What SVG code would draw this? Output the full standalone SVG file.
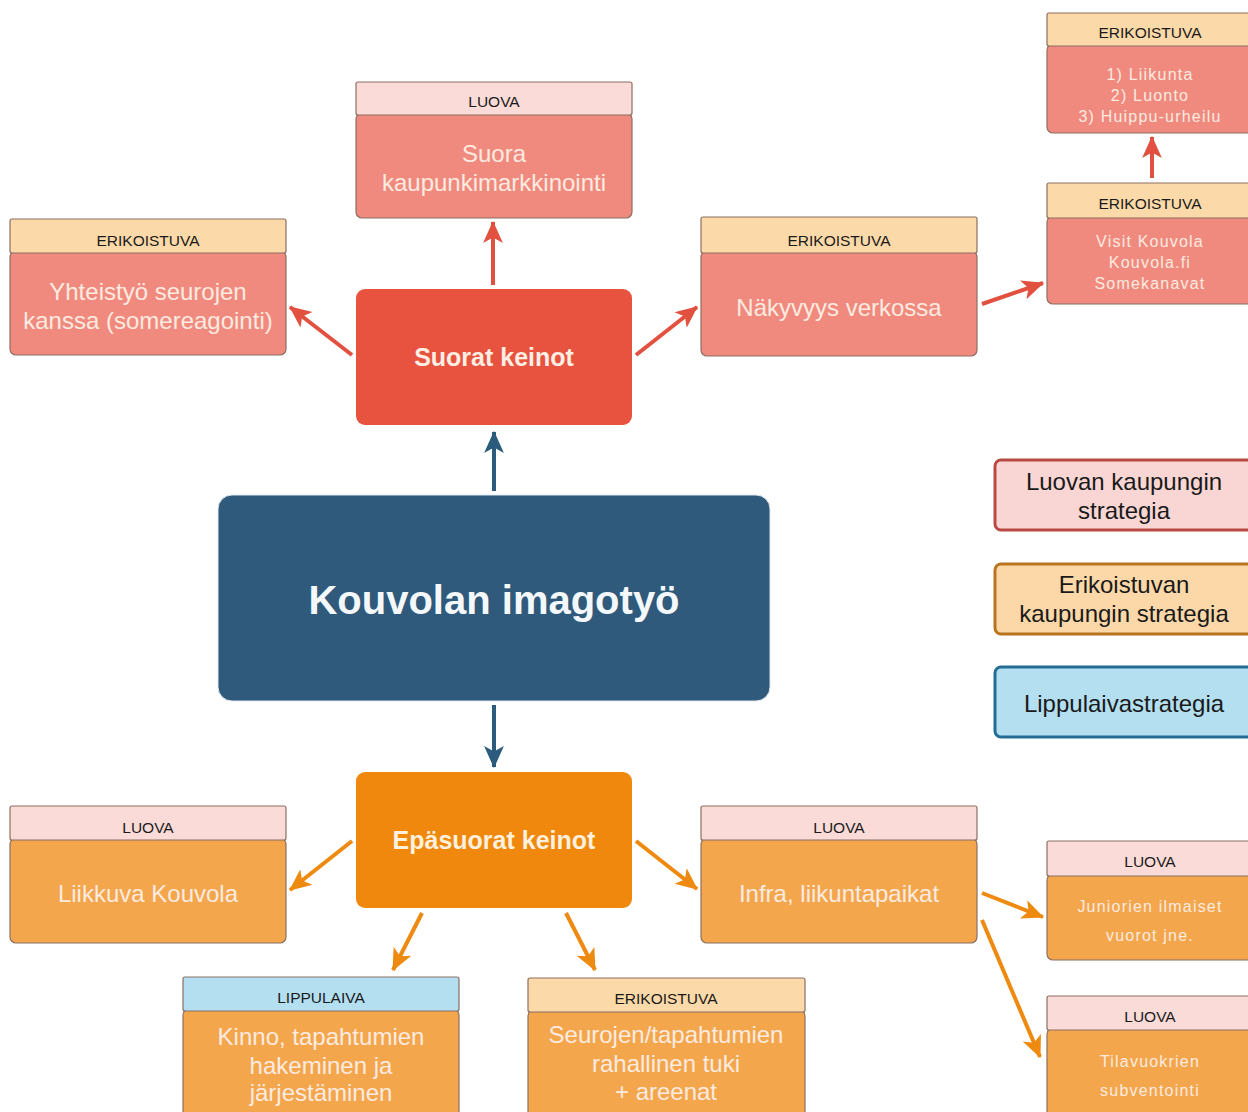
<svg xmlns="http://www.w3.org/2000/svg" width="1248" height="1112" viewBox="0 0 1248 1112">
<defs>
<style>
.hdr{stroke:#8c6f62;stroke-width:1.2}
.body{stroke:#8c6f62;stroke-width:1.2}
.pink{fill:#fadbd8}
.peach{fill:#fcd9a8}
.blue{fill:#b4dff1}
.redb{fill:#f08a7e}
.orb{fill:#f3a64c}
.ht{font-family:"Liberation Sans",Arial,sans-serif;font-size:15.5px;fill:#1a1a1a;text-anchor:middle}
.bt{font-family:"Liberation Sans",Arial,sans-serif;font-size:24px;fill:#fdebe0;text-anchor:middle}
.st{font-family:"Liberation Sans",Arial,sans-serif;font-size:16px;letter-spacing:1.2px;fill:#fdebe0;text-anchor:middle}
.lt{font-family:"Liberation Sans",Arial,sans-serif;font-size:24px;fill:#1a1a1a;text-anchor:middle}
.c{fill:none;stroke-width:4}
.cr{stroke:#e2503f}
.cb{stroke:#2b5b7d}
.co{stroke:#ee8a10}
</style>
<marker id="ar" viewBox="0 0 20 20" refX="19" refY="10" markerWidth="22" markerHeight="22" markerUnits="userSpaceOnUse" orient="auto"><path d="M0,1 L20,10 L0,19 L5,10 Z" fill="#e2503f"/></marker>
<marker id="ab" viewBox="0 0 20 20" refX="19" refY="10" markerWidth="22" markerHeight="22" markerUnits="userSpaceOnUse" orient="auto"><path d="M0,1 L20,10 L0,19 L5,10 Z" fill="#2b5b7d"/></marker>
<marker id="ao" viewBox="0 0 20 20" refX="19" refY="10" markerWidth="22" markerHeight="22" markerUnits="userSpaceOnUse" orient="auto"><path d="M0,1 L20,10 L0,19 L5,10 Z" fill="#ee8a10"/></marker>
</defs>
<rect width="1248" height="1112" fill="#ffffff"/>

<g id="connectors">
<path class="c cb" d="M494,491 L494,432" marker-end="url(#ab)"/>
<path class="c cb" d="M494,705 L494,767" marker-end="url(#ab)"/>
<path class="c cr" d="M493,285 L493,222" marker-end="url(#ar)"/>
<path class="c cr" d="M352,355 L290,307" marker-end="url(#ar)"/>
<path class="c cr" d="M636,355 L697,307" marker-end="url(#ar)"/>
<path class="c cr" d="M982,304 L1043,283" marker-end="url(#ar)"/>
<path class="c cr" d="M1152,178 L1152,137" marker-end="url(#ar)"/>
<path class="c co" d="M352,841 L290,890" marker-end="url(#ao)"/>
<path class="c co" d="M636,841 L697,889" marker-end="url(#ao)"/>
<path class="c co" d="M422,913 L393,970" marker-end="url(#ao)"/>
<path class="c co" d="M566,913 L595,970" marker-end="url(#ao)"/>
<path class="c co" d="M982,893 L1043,917" marker-end="url(#ao)"/>
<path class="c co" d="M982,920 L1040,1057" marker-end="url(#ao)"/>
</g>

<g id="main">
<rect x="218" y="495" width="552" height="206" rx="14" fill="#2f5a7c" stroke="#dbe6ee" stroke-width="1"/>
<text x="494" y="614" font-family="Liberation Sans,Arial,sans-serif" font-size="40" font-weight="bold" fill="#f4f8fb" text-anchor="middle">Kouvolan imagotyö</text>
</g>

<g id="suorat">
<rect x="356" y="289" width="276" height="136" rx="9" fill="#e8533f"/>
<text x="494" y="366" font-family="Liberation Sans,Arial,sans-serif" font-size="25" font-weight="bold" fill="#fdeee4" text-anchor="middle">Suorat keinot</text>
</g>

<g id="epasuorat">
<rect x="356" y="772" width="276" height="136" rx="9" fill="#ef880c"/>
<text x="494" y="849" font-family="Liberation Sans,Arial,sans-serif" font-size="25" font-weight="bold" fill="#fdf0dc" text-anchor="middle">Epäsuorat keinot</text>
</g>

<g id="suora-kaupunkimarkkinointi">
<rect class="body redb" x="356" y="113" width="276" height="105" rx="6"/>
<rect class="hdr pink" x="356" y="82" width="276" height="33" rx="2"/>
<text class="ht" x="494" y="106.5">LUOVA</text>
<text class="bt" x="494" y="161.5">Suora</text>
<text class="bt" x="494" y="190.5">kaupunkimarkkinointi</text>
</g>

<g id="yhteistyo">
<rect class="body redb" x="10" y="251" width="276" height="104" rx="6"/>
<rect class="hdr peach" x="10" y="219" width="276" height="34" rx="2"/>
<text class="ht" x="148" y="245.5">ERIKOISTUVA</text>
<text class="bt" x="148" y="299.5">Yhteistyö seurojen</text>
<text class="bt" x="148" y="328.5">kanssa (somereagointi)</text>
</g>

<g id="nakyvyys">
<rect class="body redb" x="701" y="251" width="276" height="105" rx="6"/>
<rect class="hdr peach" x="701" y="217" width="276" height="36" rx="2"/>
<text class="ht" x="839" y="245.5">ERIKOISTUVA</text>
<text class="bt" x="839" y="315.5">Näkyvyys verkossa</text>
</g>

<g id="visit-kouvola">
<rect class="body redb" x="1047" y="216" width="210" height="88" rx="6"/>
<rect class="hdr peach" x="1047" y="183" width="210" height="35" rx="2"/>
<text class="ht" x="1150" y="208.5">ERIKOISTUVA</text>
<text class="st" x="1150" y="247">Visit Kouvola</text>
<text class="st" x="1150" y="268">Kouvola.fi</text>
<text class="st" x="1150" y="289">Somekanavat</text>
</g>

<g id="liikunta">
<rect class="body redb" x="1047" y="44" width="210" height="89" rx="6"/>
<rect class="hdr peach" x="1047" y="13" width="210" height="33" rx="2"/>
<text class="ht" x="1150" y="37.5">ERIKOISTUVA</text>
<text class="st" x="1150" y="80">1) Liikunta</text>
<text class="st" x="1150" y="101">2) Luonto</text>
<text class="st" x="1150" y="122">3) Huippu-urheilu</text>
</g>

<g id="liikkuva-kouvola">
<rect class="body orb" x="10" y="838" width="276" height="105" rx="6"/>
<rect class="hdr pink" x="10" y="806" width="276" height="34" rx="2"/>
<text class="ht" x="148" y="832.5">LUOVA</text>
<text class="bt" x="148" y="901.5">Liikkuva Kouvola</text>
</g>

<g id="infra">
<rect class="body orb" x="701" y="838" width="276" height="105" rx="6"/>
<rect class="hdr pink" x="701" y="806" width="276" height="34" rx="2"/>
<text class="ht" x="839" y="832.5">LUOVA</text>
<text class="bt" x="839" y="901.5">Infra, liikuntapaikat</text>
</g>

<g id="kinno">
<rect class="body orb" x="183" y="1009" width="276" height="110" rx="6"/>
<rect class="hdr blue" x="183" y="977" width="276" height="34" rx="2"/>
<text class="ht" x="321" y="1002.5">LIPPULAIVA</text>
<text class="bt" x="321" y="1044.5">Kinno, tapahtumien</text>
<text class="bt" x="321" y="1073.5">hakeminen ja</text>
<text class="bt" x="321" y="1100.5">järjestäminen</text>
</g>

<g id="seurojen">
<rect class="body orb" x="528" y="1010" width="277" height="110" rx="6"/>
<rect class="hdr peach" x="528" y="978" width="277" height="34" rx="2"/>
<text class="ht" x="666" y="1003.5">ERIKOISTUVA</text>
<text class="bt" x="666" y="1042.5">Seurojen/tapahtumien</text>
<text class="bt" x="666" y="1071.5">rahallinen tuki</text>
<text class="bt" x="666" y="1099.5">+ areenat</text>
</g>

<g id="juniorien">
<rect class="body orb" x="1047" y="874" width="210" height="86" rx="6"/>
<rect class="hdr pink" x="1047" y="841" width="210" height="35" rx="2"/>
<text class="ht" x="1150" y="866.5">LUOVA</text>
<text class="st" x="1150" y="912">Juniorien ilmaiset</text>
<text class="st" x="1150" y="941">vuorot jne.</text>
</g>

<g id="tilavuokrien">
<rect class="body orb" x="1047" y="1028" width="210" height="90" rx="6"/>
<rect class="hdr pink" x="1047" y="996" width="210" height="34" rx="2"/>
<text class="ht" x="1150" y="1021.5">LUOVA</text>
<text class="st" x="1150" y="1067">Tilavuokrien</text>
<text class="st" x="1150" y="1096">subventointi</text>
</g>

<g id="legend-luova">
<rect x="995" y="460" width="265" height="70" rx="6" fill="#f9d6d3" stroke="#b84a43" stroke-width="3"/>
<text class="lt" x="1124" y="489.5">Luovan kaupungin</text>
<text class="lt" x="1124" y="518.5">strategia</text>
</g>
<g id="legend-erikoistuva">
<rect x="995" y="564" width="265" height="70" rx="6" fill="#fcd8a8" stroke="#b8741e" stroke-width="3"/>
<text class="lt" x="1124" y="592.5">Erikoistuvan</text>
<text class="lt" x="1124" y="621.5">kaupungin strategia</text>
</g>
<g id="legend-lippulaiva">
<rect x="995" y="667" width="265" height="70" rx="6" fill="#b4dff1" stroke="#236c94" stroke-width="3"/>
<text class="lt" x="1124" y="711.5">Lippulaivastrategia</text>
</g>
</svg>
